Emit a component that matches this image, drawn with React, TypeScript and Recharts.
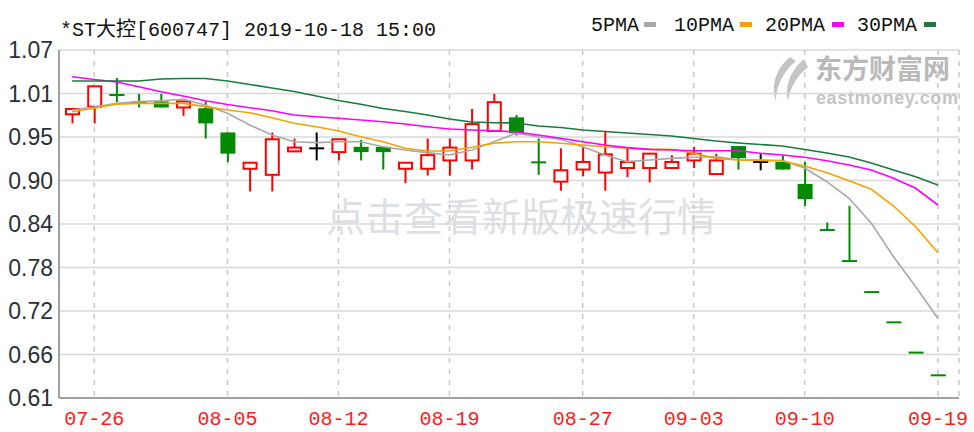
import React from 'react';
import { ComposedChart, XAxis, YAxis, CartesianGrid, Bar, Line } from 'recharts';

// trading days shown on the chart
const dates = [
  '07-25', '07-26', '07-29', '07-30', '07-31',
  '08-01', '08-02', '08-05', '08-06', '08-07', '08-08', '08-09', '08-12', '08-13', '08-14',
  '08-15', '08-16', '08-19', '08-20', '08-21', '08-22', '08-23', '08-26', '08-27', '08-28',
  '08-29', '08-30', '09-02', '09-03', '09-04', '09-05', '09-06', '09-09', '09-10', '09-11',
  '09-12', '09-16', '09-17', '09-18', '09-19',
];

const opens = [
  0.985, 0.995, 1.011, 1.002, 1.002, 0.994, 0.993, 0.961, 0.913, 0.905,
  0.936, 0.940, 0.935, 0.942, 0.942, 0.913, 0.913, 0.924, 0.924, 0.963,
  0.981, 0.922, 0.896, 0.912, 0.908, 0.914, 0.914, 0.914, 0.924, 0.906,
  0.943, 0.922, 0.922, 0.893, 0.833, 0.792, 0.75, 0.71, 0.67, 0.64,
];
const closes = [
  0.992, 1.022, 1.010, 0.999, 0.994, 1.002, 0.973, 0.933, 0.921, 0.952,
  0.941, 0.940, 0.952, 0.935, 0.935, 0.921, 0.931, 0.941, 0.972, 1.001,
  0.960, 0.921, 0.911, 0.922, 0.932, 0.922, 0.933, 0.922, 0.933, 0.924,
  0.927, 0.922, 0.912, 0.873, 0.831, 0.79, 0.75, 0.71, 0.67, 0.64,
];
const highs = [
  0.992, 1.022, 1.033, 1.012, 1.012, 1.003, 1.002, 0.961, 0.921, 0.961,
  0.953, 0.961, 0.952, 0.951, 0.942, 0.921, 0.953, 0.953, 0.992, 1.012,
  0.984, 0.953, 0.940, 0.942, 0.962, 0.942, 0.933, 0.931, 0.942, 0.933,
  0.943, 0.934, 0.931, 0.922, 0.842, 0.864, 0.75, 0.71, 0.67, 0.64,
];
const lows = [
  0.973, 0.973, 1.001, 0.994, 0.994, 0.983, 0.953, 0.922, 0.883, 0.883,
  0.936, 0.924, 0.924, 0.924, 0.912, 0.894, 0.904, 0.904, 0.912, 0.963,
  0.957, 0.905, 0.884, 0.903, 0.884, 0.902, 0.895, 0.914, 0.914, 0.906,
  0.912, 0.911, 0.912, 0.864, 0.831, 0.79, 0.75, 0.71, 0.67, 0.64,
];

const ma5 = [
  0.9907, 0.9947, 0.9995, 1.0017, 1.003, 1.0048, 0.9973, 0.9863, 0.9709, 0.9576,
  0.9488, 0.9475, 0.9488, 0.9488, 0.9422, 0.9378, 0.9343, 0.9312, 0.9378, 0.9488,
  0.9599, 0.9554, 0.952, 0.9422, 0.9312, 0.9224, 0.9246, 0.9268, 0.9282, 0.929,
  0.9246, 0.9246, 0.9239, 0.914, 0.8959, 0.874, 0.8409, 0.7968, 0.7571, 0.7154,
];
const ma10 = [
  0.9884, 0.9929, 0.9982, 0.9995, 0.9995, 0.9995, 0.9951, 0.9907, 0.9871, 0.9805,
  0.9731, 0.9686, 0.9629, 0.9554, 0.9488, 0.9401, 0.9365, 0.9365, 0.9414, 0.9467,
  0.9488, 0.9488, 0.9467, 0.9444, 0.9422, 0.9401, 0.9387, 0.9387, 0.9335, 0.9268,
  0.9246, 0.9239, 0.9233, 0.9167, 0.9078, 0.8972, 0.8859, 0.8638, 0.8364, 0.8021,
];
const ma20 = [
  1.0347, 1.031, 1.0277, 1.0215, 1.0149, 1.0092, 1.003, 0.998, 0.9937, 0.9898,
  0.9841, 0.9818, 0.9797, 0.9775, 0.9752, 0.9722, 0.9686, 0.9656, 0.9643, 0.9633,
  0.9616, 0.9576, 0.9533, 0.9488, 0.9444, 0.9409, 0.9387, 0.9378, 0.9369, 0.9369,
  0.9369, 0.9335, 0.9312, 0.9282, 0.9237, 0.918, 0.9114, 0.9004, 0.8872, 0.8651,
];
const ma30 = [
  1.029, 1.029, 1.029, 1.029, 1.0317, 1.0323, 1.0323, 1.029, 1.0244, 1.0198,
  1.0151, 1.0092, 1.0032, 0.9982, 0.9927, 0.9887, 0.9841, 0.9788, 0.9748, 0.9739,
  0.9735, 0.9695, 0.9676, 0.9643, 0.9623, 0.9603, 0.9583, 0.9563, 0.953, 0.9497,
  0.9471, 0.9451, 0.9431, 0.9385, 0.9339, 0.9286, 0.9206, 0.9114, 0.9025, 0.8916,
];

const xTickDates = ['07-26', '08-05', '08-12', '08-19', '08-27', '09-03', '09-10', '09-19'];
const yTicks = [0.61, 0.6675, 0.725, 0.7825, 0.84, 0.8975, 0.955, 1.0125, 1.07];
const yTickLabels = ['0.61', '0.66', '0.72', '0.78', '0.84', '0.90', '0.95', '1.01', '1.07'];

const Y_MIN = 0.61;
const Y_MAX = 1.07;

const maSeries = [
  { key: 'ma5', name: '5PMA', color: '#a8a8a8', left: 591, swatch: 644 },
  { key: 'ma10', name: '10PMA', color: '#f5a300', left: 674, swatch: 740 },
  { key: 'ma20', name: '20PMA', color: '#ff00ff', left: 765, swatch: 832 },
  { key: 'ma30', name: '30PMA', color: '#1b7a3e', left: 857, swatch: 924 },
];

const chartData = dates.map((date, i) => ({
  date,
  open: opens[i],
  close: closes[i],
  high: highs[i],
  low: lows[i],
  ma5: ma5[i],
  ma10: ma10[i],
  ma20: ma20[i],
  ma30: ma30[i],
}));

const RED = '#ff0000';
const GREEN = '#008a00';

function candleColor(i: number) {
  const d = chartData[i];
  if (d.close > d.open) return RED;
  if (d.close < d.open) return GREEN;
  // one-price bars take the colour of the move from the previous close
  if (d.high === d.low && i > 0) {
    const prev = chartData[i - 1].close;
    if (d.close < prev) return GREEN;
    if (d.close > prev) return RED;
  }
  return '#000000';
}

const Candle = (props: any) => {
  const { x, y, width, height, payload } = props;
  if (!payload || !(height > 0)) return null;
  const i = dates.indexOf(payload.date);
  const { open, close, high, low } = payload;
  // bar runs from Y_MIN up to high, so its height gives pixels per unit
  const k = height / (high - Y_MIN);
  const py = (v: number) => y + (high - v) * k;
  const cx = x + width / 2;
  const color = candleColor(i);
  const top = py(Math.max(open, close));
  const bot = py(Math.min(open, close));

  if (color === RED && bot - top > 2) {
    return (
      <g>
        <line x1={cx} y1={py(high)} x2={cx} y2={top} stroke={RED} strokeWidth={2} />
        <line x1={cx} y1={bot} x2={cx} y2={py(low)} stroke={RED} strokeWidth={2} />
        <rect x={x + 1} y={top} width={width - 2} height={bot - top} fill="#ffffff" stroke={RED} strokeWidth={2} />
      </g>
    );
  }
  if (bot - top > 2) {
    return (
      <g>
        <line x1={cx} y1={py(high)} x2={cx} y2={py(low)} stroke={color} strokeWidth={2} />
        <rect x={x} y={top} width={width} height={bot - top} fill={color} />
      </g>
    );
  }
  const mid = (top + bot) / 2;
  return (
    <g>
      {high > low && <line x1={cx} y1={py(high)} x2={cx} y2={py(low)} stroke={color} strokeWidth={2} />}
      <line x1={x} y1={mid} x2={x + width} y2={mid} stroke={color} strokeWidth={2} />
    </g>
  );
};

const XTick = (props: any) => {
  const { x, y, payload } = props;
  return (
    <text x={x} y={y + 19} textAnchor="middle" fill="#ff1a1a" fontFamily="Liberation Mono" fontSize={20}>
      {payload.value}
    </text>
  );
};

export default function App() {
  return (
    <div style={{ position: 'absolute', left: 0, top: 0, width: 974, height: 432, background: '#ffffff', overflow: 'hidden' }}>
      {/* watermarks */}
      <div style={{ position: 'absolute', left: 326, top: 186, fontFamily: '"Noto Sans CJK SC"', fontSize: 39, color: '#dde0e3', whiteSpace: 'nowrap' }}>
        点击查看新版极速行情
      </div>
      <svg style={{ position: 'absolute', left: 764, top: 55 }} width={48} height={48}>
        <path d="M26 2 C 14 12, 6 28, 12 46 C 12 30, 20 16, 32 6 Z" fill="#c4c4c4" />
        <path d="M40 4 C 28 14, 20 30, 24 46 C 26 32, 34 20, 44 12 Z" fill="#c4c4c4" />
      </svg>
      <div style={{ position: 'absolute', left: 815, top: 48, fontFamily: '"Noto Sans CJK SC"', fontWeight: 700, fontSize: 27, color: '#b9b9b9', whiteSpace: 'nowrap' }}>
        东方财富网
      </div>
      <div style={{ position: 'absolute', left: 816, top: 88, fontFamily: '"Liberation Sans"', fontWeight: 700, fontSize: 18, letterSpacing: 0.6, color: '#c4c4c4', whiteSpace: 'nowrap' }}>
        eastmoney.com
      </div>

      <div style={{ position: 'absolute', left: 0, top: 0 }}>
        <ComposedChart width={974} height={432} data={chartData} margin={{ top: 50, right: 15, bottom: 0, left: 0 }}>
          <CartesianGrid vertical={false} stroke="#d8d8d8" strokeWidth={1.5} />
          <CartesianGrid horizontal={false} stroke="#c8c8c8" strokeWidth={1.5} strokeDasharray="5 6" />
          <XAxis
            dataKey="date"
            ticks={xTickDates}
            interval={0}
            tickLine={false}
            axisLine={{ stroke: '#a0a0a0', strokeWidth: 2 }}
            height={34}
            padding={{ left: 2, right: 10 }}
            tick={<XTick />}
          />
          <XAxis
            xAxisId="top"
            orientation="top"
            dataKey="date"
            height={0}
            tick={false}
            tickLine={false}
            axisLine={{ stroke: '#b4b4b4', strokeWidth: 2 }}
          />
          <YAxis
            type="number"
            domain={[Y_MIN, Y_MAX]}
            ticks={yTicks}
            interval={0}
            allowDataOverflow
            width={59}
            tickLine={false}
            tickSize={4}
            tickMargin={2}
            axisLine={{ stroke: '#a0a0a0', strokeWidth: 2 }}
            tick={{ fill: '#2a2f3a', fontFamily: 'Liberation Sans', fontSize: 23 }}
            tickFormatter={(v: number) => yTickLabels[yTicks.indexOf(v)]}
          />
          <YAxis
            yAxisId="right"
            orientation="right"
            type="number"
            domain={[Y_MIN, Y_MAX]}
            width={0}
            tick={false}
            tickLine={false}
            axisLine={{ stroke: '#a8a8a8', strokeWidth: 2 }}
          />
          <Bar
            dataKey={(d: any) => [Y_MIN, d.high]}
            barSize={15}
            shape={Candle}
            isAnimationActive={false}
          />
          {maSeries.map((s) => (
            <Line
              key={s.key}
              type="linear"
              dataKey={s.key}
              stroke={s.color}
              strokeWidth={1.6}
              dot={false}
              activeDot={false}
              isAnimationActive={false}
            />
          ))}
        </ComposedChart>
      </div>

      {/* title and legend */}
      <div style={{ position: 'absolute', left: 60, top: 13, fontFamily: '"Liberation Mono", "Noto Sans CJK SC"', fontSize: 20, color: '#111', whiteSpace: 'nowrap' }}>
        *ST大控[600747] 2019-10-18 15:00
      </div>
      {maSeries.map((s) => (
        <React.Fragment key={s.key}>
          <div style={{ position: 'absolute', left: s.left, top: 14, fontFamily: '"Liberation Mono"', fontSize: 20, color: '#111', whiteSpace: 'nowrap' }}>
            {s.name}
          </div>
          <div style={{ position: 'absolute', left: s.swatch, top: 22, width: 12, height: 5, background: s.color }} />
        </React.Fragment>
      ))}
    </div>
  );
}
